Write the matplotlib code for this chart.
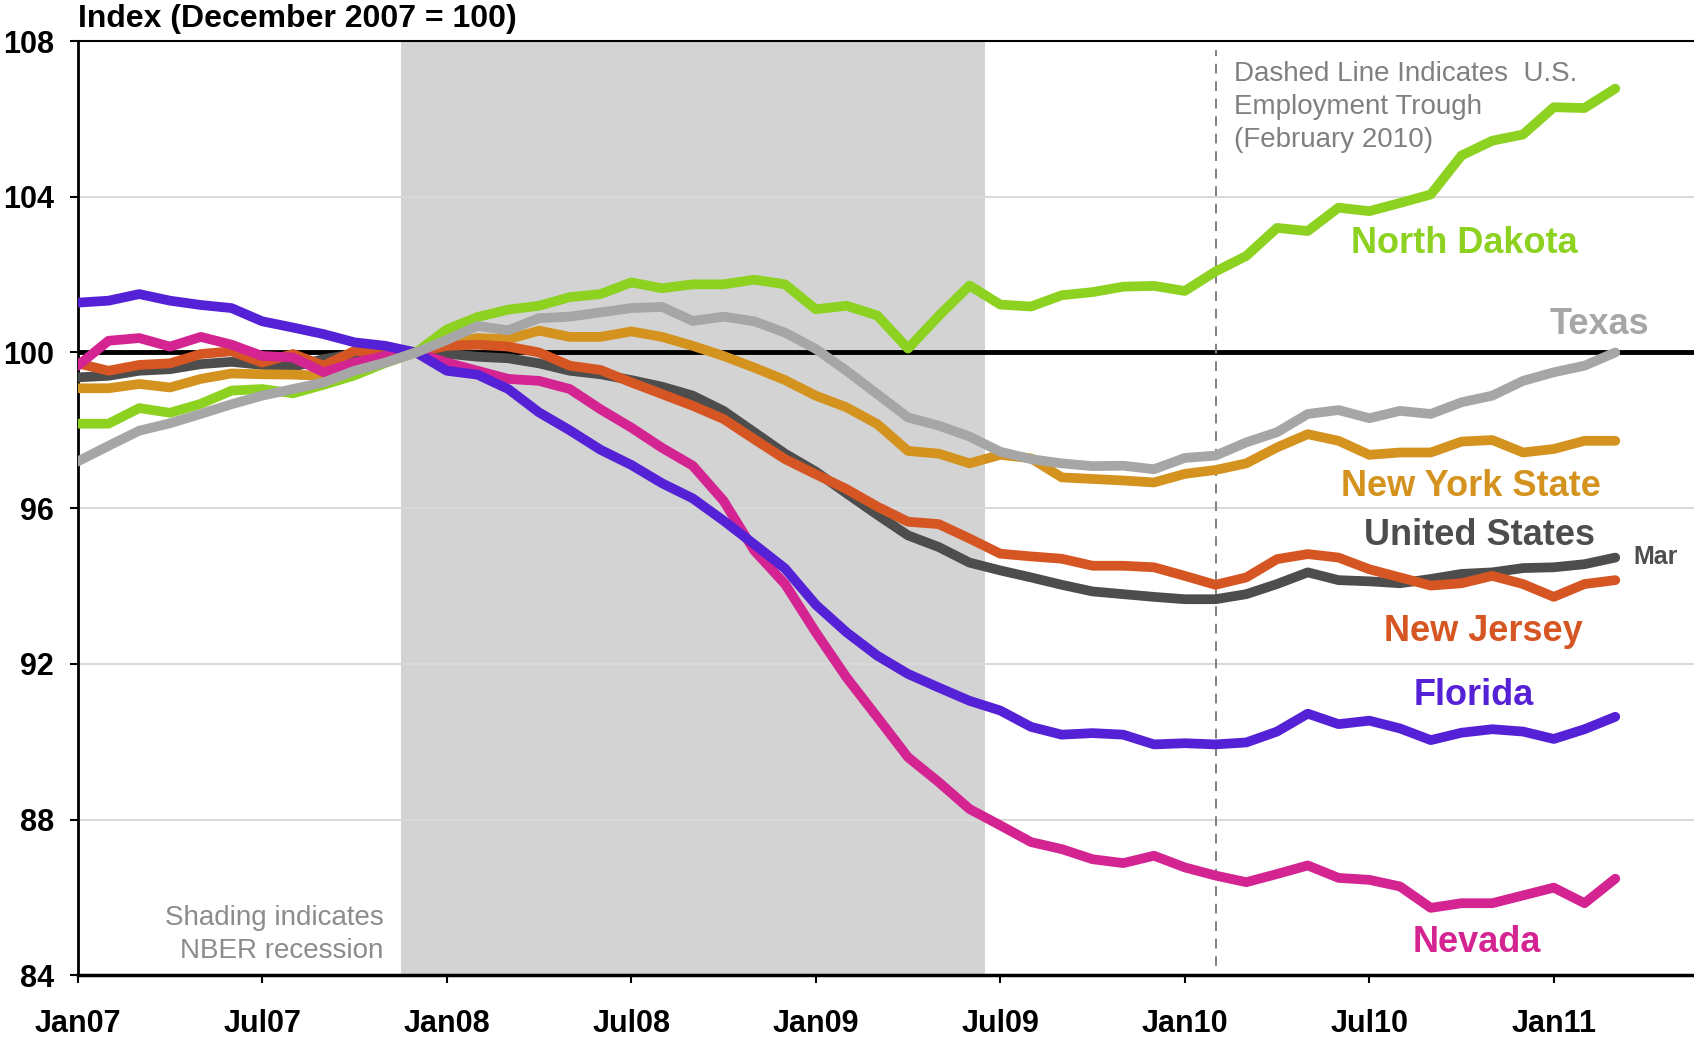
import matplotlib
matplotlib.use("Agg")
import matplotlib.pyplot as plt

# monthly index, Dec 2007 = 100, Jan07 .. Mar11
months = list(range(51))
tick_pos = [0, 6, 12, 18, 24, 30, 36, 42, 48]
tick_labels = ["Jan07", "Jul07", "Jan08", "Jul08", "Jan09", "Jul09", "Jan10", "Jul10", "Jan11"]
y_ticks = [84, 88, 92, 96, 100, 104, 108]

recession = (10.5, 29.5)   # Dec07 - Jun09
trough = 37                # Feb10

north_dakota = [98.17, 98.17, 98.57, 98.45, 98.68, 99.02, 99.06, 98.95, 99.17, 99.41, 99.73, 100.0,
                100.59, 100.91, 101.1, 101.2, 101.42, 101.5, 101.8, 101.65, 101.75, 101.75, 101.87, 101.75,
                101.11, 101.2, 100.95, 100.1, 100.94, 101.72, 101.23, 101.18, 101.47, 101.55, 101.69, 101.71,
                101.58, 102.08, 102.48, 103.2, 103.12, 103.72, 103.63, 103.84, 104.06, 105.06, 105.44, 105.6,
                106.3, 106.28, 106.78]
texas = [97.2, 97.6, 97.99, 98.18, 98.42, 98.67, 98.89, 99.06, 99.23, 99.53, 99.74, 100.0,
         100.32, 100.68, 100.57, 100.88, 100.92, 101.03, 101.14, 101.17, 100.81, 100.92, 100.8, 100.51,
         100.09, 99.53, 98.93, 98.33, 98.12, 97.84, 97.45, 97.26, 97.15, 97.08, 97.09, 97.0,
         97.29, 97.35, 97.69, 97.95, 98.42, 98.52, 98.31, 98.5, 98.42, 98.72, 98.89, 99.27,
         99.49, 99.66, 100.0]
new_york = [99.08, 99.08, 99.19, 99.1, 99.32, 99.46, 99.44, 99.43, 99.4, 99.7, 99.91, 100.0,
            100.21, 100.37, 100.34, 100.56, 100.4, 100.4, 100.54, 100.4, 100.17, 99.91, 99.61, 99.29,
            98.89, 98.59, 98.16, 97.47, 97.4, 97.15, 97.37, 97.28, 96.79, 96.75, 96.71, 96.66,
            96.88, 96.98, 97.15, 97.56, 97.9, 97.73, 97.37, 97.43, 97.43, 97.71, 97.75, 97.43,
            97.52, 97.73, 97.73]
united_states = [99.36, 99.4, 99.53, 99.57, 99.7, 99.76, 99.68, 99.63, 99.83, 99.96, 99.97, 100.0,
                 99.97, 99.89, 99.85, 99.72, 99.53, 99.44, 99.29, 99.12, 98.89, 98.5, 97.95, 97.4,
                 96.94, 96.38, 95.83, 95.3, 95.0, 94.6, 94.4, 94.22, 94.03, 93.86, 93.79, 93.72,
                 93.66, 93.66, 93.79, 94.05, 94.35, 94.15, 94.12, 94.07, 94.18, 94.31, 94.35, 94.46,
                 94.48, 94.56, 94.73]
new_jersey = [99.72, 99.53, 99.68, 99.72, 99.96, 100.03, 99.74, 99.96, 99.66, 100.04, 100.0, 100.0,
              100.17, 100.2, 100.15, 100.0, 99.66, 99.55, 99.23, 98.93, 98.63, 98.29, 97.77, 97.26,
              96.87, 96.49, 96.04, 95.65, 95.59, 95.22, 94.83, 94.76, 94.7, 94.52, 94.52, 94.48,
              94.26, 94.03, 94.22, 94.69, 94.82, 94.73, 94.43, 94.22, 94.01, 94.07, 94.26, 94.05,
              93.72, 94.05, 94.15]
florida = [101.28, 101.33, 101.5, 101.33, 101.22, 101.14, 100.8, 100.64, 100.47, 100.26, 100.17, 100.0,
           99.53, 99.43, 99.06, 98.46, 98.0, 97.5, 97.11, 96.64, 96.25, 95.68, 95.07, 94.45,
           93.52, 92.81, 92.21, 91.74, 91.39, 91.05, 90.8, 90.38, 90.18, 90.22, 90.18, 89.93,
           89.96, 89.93, 89.98, 90.26, 90.72, 90.45, 90.54, 90.34, 90.04, 90.23, 90.32, 90.26,
           90.07, 90.32, 90.64]
nevada = [99.66, 100.3, 100.37, 100.15, 100.4, 100.2, 99.91, 99.87, 99.49, 99.74, 99.91, 100.0,
          99.74, 99.53, 99.32, 99.27, 99.06, 98.54, 98.07, 97.55, 97.09, 96.19, 94.91, 94.05,
          92.81, 91.65, 90.63, 89.6, 88.96, 88.27, 87.85, 87.42, 87.24, 86.98, 86.88, 87.07,
          86.77, 86.56, 86.39, 86.6, 86.82, 86.5, 86.45, 86.28, 85.73, 85.85, 85.85, 86.05,
          86.25, 85.85, 86.48]

# name, data, colour, label position (month, index)
series = [
    ("United States", united_states, "#4d4d4d", (45.6, 95.3)),
    ("New York State", new_york, "#d4921f", (45.3, 96.55)),
    ("New Jersey", new_jersey, "#d65623", (45.7, 92.82)),
    ("Nevada", nevada, "#d42491", (45.5, 84.85)),
    ("Florida", florida, "#5521d6", (45.4, 91.18)),
    ("North Dakota", north_dakota, "#8dd121", (45.1, 102.8)),
    ("Texas", texas, "#a6a6a6", (49.5, 100.72)),
]

plt.rcParams['font.family'] = ['Liberation Sans', 'DejaVu Sans']


def plot_chart():
    fig = plt.figure(figsize=(16.94, 10.4), dpi=100)
    ax = fig.add_axes([0.0459, 0.0623, 0.9541, 0.8982])

    ax.axvspan(recession[0], recession[1], color="#d3d3d3", lw=0, zorder=0.2)
    ax.set_axisbelow(True)
    ax.yaxis.grid(True, color="#dadada", lw=1.5)
    ax.axhline(100, color="black", lw=3.5, zorder=1)
    ax.axvline(trough, ymin=0.01, ymax=0.99, color="#808080", lw=1.4,
               dashes=(5, 4), zorder=1)

    for name, vals, col, (lx, ly) in series:
        ax.plot(months, vals, color=col, lw=7, solid_capstyle="round", zorder=3)
        ax.text(lx, ly, name, color=col, fontsize=26, fontweight="bold",
                ha="center", va="center", zorder=4)

    ax.text(50.6, 94.75, "Mar", color="#4d4d4d", fontsize=18, fontweight="bold",
            ha="left", va="center")
    ax.text(9.94, 85.05, "Shading indicates\nNBER recession", color="#8c8c8c",
            fontsize=20, ha="right", va="center", linespacing=1.35)
    ax.text(37.6, 107.5, "Dashed Line Indicates  U.S.\nEmployment Trough\n(February 2010)",
            color="#808080", fontsize=20, ha="left", va="top", linespacing=1.35)
    ax.text(0, 1.008, "Index (December 2007 = 100)", transform=ax.transAxes,
            fontsize=23, fontweight="bold", ha="left", va="bottom")

    ax.set_xlim(0, 52.56)
    ax.set_ylim(84, 108)
    ax.set_xticks(tick_pos)
    ax.set_xticklabels(tick_labels)
    ax.set_yticks(y_ticks)
    ax.tick_params(axis="x", direction="out", length=6, width=1.5, pad=18, labelsize=22)
    ax.tick_params(axis="y", direction="out", length=6, width=1.5, pad=11, labelsize=22)
    for lab in ax.get_xticklabels() + ax.get_yticklabels():
        lab.set_fontweight("bold")

    ax.spines["right"].set_visible(False)
    ax.spines["left"].set_linewidth(2)
    ax.spines["bottom"].set_linewidth(2.5)
    ax.spines["top"].set_linewidth(1.5)

    plt.savefig("out.png", dpi=100)


if __name__ == '__main__':
    plot_chart()
